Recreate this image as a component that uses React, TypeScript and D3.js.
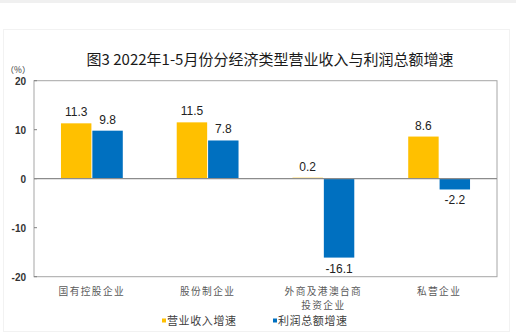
import React from "react";
import * as d3 from "d3";

const categories = ["国有控股企业", "股份制企业", "外商及港澳台商\n投资企业", "私营企业"];
const seriesNames = ["营业收入增速", "利润总额增速"];
const revenueGrowth = [11.3, 11.5, 0.2, 8.6];
const profitGrowth = [9.8, 7.8, -16.1, -2.2];
const yTicks = [-20, -10, 0, 10, 20];
const colors = ["#FFC000", "#0070C0"];
const title = "图3 2022年1-5月份分经济类型营业收入与利润总额增速";

const W = 516, H = 335;
const left = 34, right = 497, top = 80.7, bottom = 276.7;
const cjk = "'Noto Sans CJK SC', 'Noto Sans', sans-serif";
const latin = "'Liberation Sans', Arial, sans-serif";

export default function App() {
  const y = d3.scaleLinear().domain([-20, 20]).range([bottom, top]);
  const x = d3.scaleBand<string>().domain(categories).range([left, right]).paddingInner(0.466).paddingOuter(0.233);
  const xs = d3.scaleBand<string>().domain(seriesNames).range([0, x.bandwidth()]).paddingInner(0.03);
  const data = [revenueGrowth, profitGrowth];
  const fmt = (v: number) => d3.format(".1f")(v).replace("\u2212", "-");

  return (
    <svg width={W} height={H} style={{ position: "absolute", left: 0, top: 0, background: "#fff" }}>
      <rect x={0} y={0} width={W} height={3} fill="#f0f0f0" />
      <rect x={3.5} y={29.5} width={506} height={302} fill="none" stroke="#f2f2f2" />
      <text x={270} y={65} textAnchor="middle" fontFamily={cjk} fontSize={15} fill="#1a1a1a">{title}</text>
      <text x={18} y={73} textAnchor="middle" fontFamily={cjk} fontSize={8.5} fill="#333">（%）</text>
      <rect x={left} y={top} width={right - left} height={bottom - top} fill="none" stroke="#a6a6a6" strokeWidth={1} />
      {yTicks.map((t) => (
        <g key={t}>
          <line x1={left} x2={left + 3} y1={y(t)} y2={y(t)} stroke="#808080" />
          <text x={26} y={y(t) + 4} textAnchor="end" fontFamily={latin} fontSize={10} fontWeight="bold" fill="#333">{t}</text>
        </g>
      ))}
      {categories.map((c, i) => {
        const cx = (x(c) as number) + x.bandwidth() / 2;
        const lines = c.split("\n");
        return (
          <g key={c}>
            {seriesNames.map((s, j) => {
              const v = data[j][i];
              const bx = (x(c) as number) + (xs(s) as number);
              const y0 = y(Math.max(0, v));
              const y1 = y(Math.min(0, v));
              return (
                <g key={s}>
                  <rect x={bx} y={y0} width={xs.bandwidth()} height={Math.max(1, y1 - y0)} fill={colors[j]} />
                  <text x={bx + xs.bandwidth() / 2} y={v >= 0 ? y0 - 7 : y1 + 15} textAnchor="middle" fontFamily={latin} fontSize={12} fill="#222">{fmt(v)}</text>
                </g>
              );
            })}
            {lines.map((line, k) => (
              <text key={k} x={cx} y={295 + k * 14} textAnchor="middle" fontFamily={cjk} fontSize={9.7} letterSpacing={1.4} fill="#595959">{line}</text>
            ))}
          </g>
        );
      })}
      <line x1={left} x2={right} y1={y(0)} y2={y(0)} stroke="#8c8c8c" strokeWidth={1.2} />
      {seriesNames.map((s, j) => {
        const lx = j === 0 ? 162 : 273;
        return (
          <g key={s}>
            <rect x={lx} y={318.5} width={4} height={4} fill={colors[j]} />
            <text x={lx + 5} y={325} fontFamily={cjk} fontSize={11} letterSpacing={0.6} fill="#404040">{s}</text>
          </g>
        );
      })}
    </svg>
  );
}
